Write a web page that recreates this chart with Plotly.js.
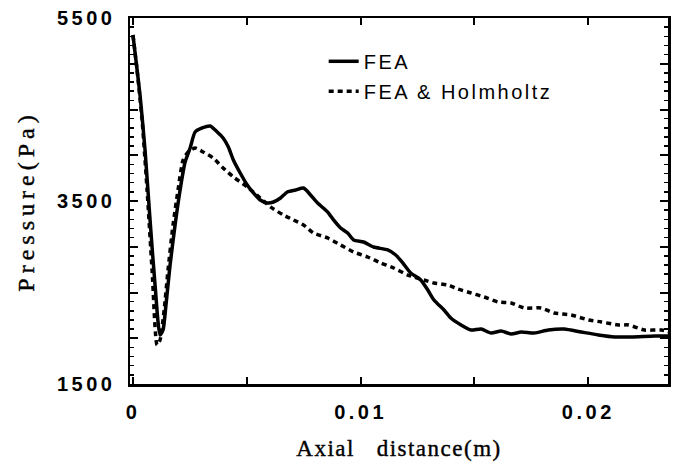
<!DOCTYPE html>
<html>
<head>
<meta charset="utf-8">
<script src="https://cdn.plot.ly/plotly-3.0.1.min.js"></script>
<style>
  html, body { margin: 0; padding: 0; background: #fff; }
  #chart { width: 678px; height: 464px; }
</style>
</head>
<body>
<div id="chart"></div>
<script>
// ---- data ----
const feaX = [0, 0.00013, 0.00031, 0.00053, 0.00075, 0.00097, 0.00119, 0.00132, 0.00145, 0.00163,
  0.00185, 0.00207, 0.00229, 0.00251, 0.00273, 0.00304, 0.00339, 0.00370, 0.00396, 0.00419,
  0.00441, 0.00471, 0.00502, 0.00529, 0.00559, 0.00590, 0.00617, 0.00648, 0.00678, 0.00714,
  0.00749, 0.00780, 0.00811, 0.00855, 0.00881, 0.00912, 0.00943, 0.00969, 0.01013, 0.01057,
  0.01119, 0.01154, 0.01185, 0.01220, 0.01264, 0.01295, 0.01322, 0.01366, 0.01396, 0.01441,
  0.01485, 0.01529, 0.01573, 0.01617, 0.01661, 0.01705, 0.01762, 0.01824, 0.01894, 0.01969,
  0.02044, 0.02115, 0.02189, 0.02291, 0.02357];
const feaP = [5315, 5041, 4659, 4058, 3293, 2582, 2036, 2090, 2363, 2801,
  3238, 3620, 3926, 4079, 4254, 4298, 4320, 4254, 4189, 4090,
  3948, 3806, 3675, 3588, 3511, 3478, 3489, 3533, 3599, 3620,
  3642, 3566, 3478, 3380, 3293, 3205, 3150, 3074, 3052, 2997,
  2965, 2910, 2823, 2713, 2637, 2527, 2418, 2309, 2221, 2145,
  2090, 2101, 2057, 2079, 2047, 2068, 2057, 2090, 2101, 2068,
  2036, 2014, 2014, 2025, 2025];

const helmX = [0, 0.00018, 0.00040, 0.00062, 0.00084, 0.00106, 0.00119, 0.00137, 0.00154, 0.00176,
  0.00198, 0.00220, 0.00242, 0.00273, 0.00308, 0.00352, 0.00396, 0.00441, 0.00502, 0.00559,
  0.00604, 0.00661, 0.00705, 0.00749, 0.00793, 0.00855, 0.00912, 0.00969, 0.01031, 0.01088,
  0.01145, 0.01207, 0.01278, 0.01322, 0.01383, 0.01427, 0.01485, 0.01542, 0.01604, 0.01661,
  0.01718, 0.01793, 0.01850, 0.01925, 0.02000, 0.02057, 0.02132, 0.02176, 0.02247, 0.02322,
  0.02357];
const helmP = [5315, 4932, 4386, 3620, 2746, 1926, 1981, 2309, 2746, 3238,
  3620, 3948, 4036, 4079, 4036, 3970, 3861, 3763, 3653, 3533,
  3435, 3347, 3293, 3238, 3150, 3096, 3019, 2943, 2888, 2823,
  2768, 2691, 2637, 2604, 2582, 2538, 2495, 2451, 2396, 2385,
  2331, 2331, 2276, 2254, 2200, 2178, 2145, 2145, 2090, 2090,
  2068];

const seriesNames = ['FEA', 'FEA & Holmholtz'];
const xTickVals = [0, 0.005, 0.01, 0.015, 0.02];
const xTickText = ['0', '', '0.01', '', '0.02'];
const yTickVals = [1500, 2000, 2500, 3000, 3500, 4000, 4500, 5000, 5500];
const yTickText = ['1500', '', '', '', '3500', '', '', '', '5500'];
const xTitle = 'Axial   distance(m)';
const yTitle = 'Pressure(Pa)';

// ---- chart ----
const traces = [
  { x: feaX, y: feaP, name: seriesNames[0], type: 'scatter', mode: 'lines',
    legendgroup: 'a', line: { color: '#000', width: 3.5, shape: 'spline', smoothing: 0.6 } },
  { x: helmX, y: helmP, name: seriesNames[1], type: 'scatter', mode: 'lines',
    legendgroup: 'b', line: { color: '#000', width: 3.5, dash: '5px,4px', shape: 'spline', smoothing: 0.6 } }
];

const axisCommon = {
  showgrid: false, zeroline: false, showline: true, linecolor: '#000', linewidth: 2.5,
  mirror: 'ticks', ticks: 'inside', tickcolor: '#000', tickwidth: 2,
  tickfont: { family: 'Liberation Sans, Arial, sans-serif', size: 20, color: '#000', weight: 'bold' }
};

const layout = {
  width: 678, height: 464,
  margin: { l: 130, r: 10, t: 18, b: 80 },
  paper_bgcolor: '#fff', plot_bgcolor: '#fff',
  showlegend: true,
  legend: {
    x: 0.36, y: 0.935, xanchor: 'left', yanchor: 'top',
    bgcolor: 'rgba(0,0,0,0)', traceorder: 'grouped', tracegroupgap: 1,
    font: { family: 'Liberation Sans, Arial, sans-serif', size: 20, color: '#000' }
  },
  xaxis: Object.assign({}, axisCommon, {
    range: [-0.00013, 0.0235], tickmode: 'array', tickvals: xTickVals, ticktext: xTickText,
    ticklen: 7, ticklabelstandoff: 8,
    title: { text: xTitle, standoff: 19,
      font: { family: 'Liberation Serif, Times New Roman, serif', size: 23, color: '#000' } }
  }),
  yaxis: Object.assign({}, axisCommon, {
    range: [1500, 5500], tickmode: 'array', tickvals: yTickVals, ticktext: yTickText,
    ticklen: 8, ticklabelstandoff: 8,
    minor: { dtick: 100, ticks: 'inside', ticklen: 4, tickcolor: '#000', tickwidth: 1.5, showgrid: false },
    title: { text: yTitle, standoff: 30,
      font: { family: 'Liberation Serif, Times New Roman, serif', size: 24, color: '#000' } }
  })
};

Plotly.newPlot('chart', traces, layout, { staticPlot: true }).then(function (gd) {
  document.querySelectorAll('.xtick text, .ytick text').forEach(function (e) { e.style.letterSpacing = '3.5px'; });
  document.querySelectorAll('.xtitle').forEach(function (e) {
    e.style.letterSpacing = '1.5px'; e.style.stroke = '#000'; e.style.strokeWidth = '0.4px';
  });
  // legend text: widen and un-clip
  document.querySelectorAll('.legendtext').forEach(function (e) { e.style.letterSpacing = '2.5px'; });
  document.querySelectorAll('.legend [clip-path]').forEach(function (e) { e.removeAttribute('clip-path'); });
  // y title: widen and keep it centred on the plot area
  const sz = gd._fullLayout._size;
  document.querySelectorAll('.ytitle').forEach(function (e) {
    e.style.letterSpacing = '5px'; e.style.stroke = '#000'; e.style.strokeWidth = '0.4px';
    const r = e.getBoundingClientRect();
    const want = sz.t + sz.h / 2;
    const shift = want - (r.top + r.height / 2);
    e.setAttribute('transform', 'translate(0,' + shift.toFixed(1) + ') ' + (e.getAttribute('transform') || ''));
  });
});
</script>
</body>
</html>
